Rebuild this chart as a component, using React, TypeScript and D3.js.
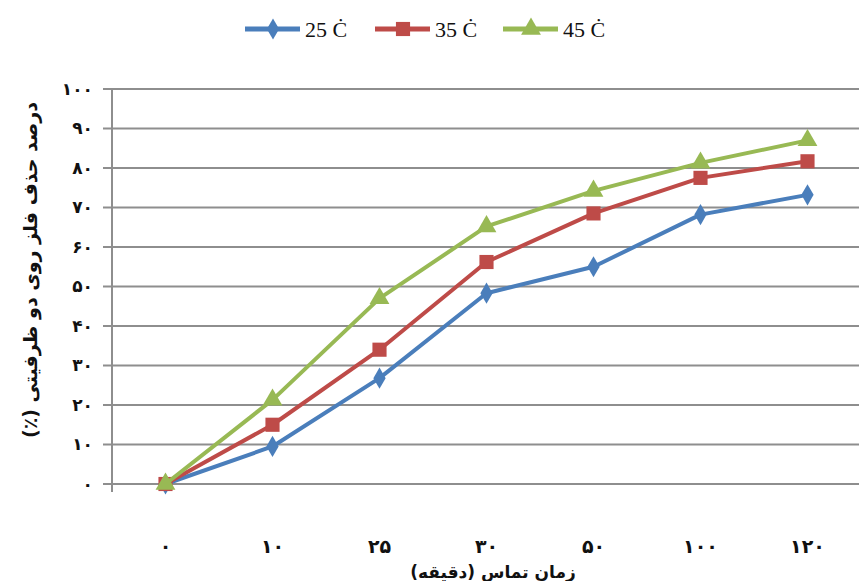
import React from "react";
import * as d3 from "d3";

const categories = ["۰", "۱۰", "۲۵", "۳۰", "۵۰", "۱۰۰", "۱۲۰"];
const yTickValues = [0, 10, 20, 30, 40, 50, 60, 70, 80, 90, 100];
const yTickLabels = ["۰", "۱۰", "۲۰", "۳۰", "۴۰", "۵۰", "۶۰", "۷۰", "۸۰", "۹۰", "۱۰۰"];
const s25 = [0, 9.5, 26.8, 48.3, 55, 68.2, 73.2];
const s35 = [0, 15, 34, 56.2, 68.5, 77.5, 81.7];
const s45 = [0, 21.3, 47, 65.2, 74.2, 81.3, 87];
const seriesNames = ["25 Ċ", "35 Ċ", "45 Ċ"];

const W = 859;
const H = 581;
const left = 112;
const right = 861;
const top = 89;
const bottom = 484;

const series = [
  { name: seriesNames[0], values: s25, color: "#4A7EBB", symbol: d3.symbolDiamond, size: 130 },
  { name: seriesNames[1], values: s35, color: "#BE4B48", symbol: d3.symbolSquare, size: 200 },
  { name: seriesNames[2], values: s45, color: "#98B954", symbol: d3.symbolTriangle, size: 170 },
];

const legendX = [245, 375, 503];

export default function App() {
  const x = d3.scalePoint<string>().domain(categories).range([left, right]).padding(0.5);
  const y = d3.scaleLinear().domain([0, 100]).range([bottom, top]);
  const line = d3
    .line<number>()
    .x((_, i) => x(categories[i]) as number)
    .y((d) => y(d));
  const fontFa = "'DejaVu Sans', sans-serif";

  return (
    <svg width={W} height={H} style={{ position: "absolute", left: 0, top: 0, background: "#fff" }}>
      {/* gridlines */}
      {yTickValues.map((v) => (
        <line key={"g" + v} x1={left - 9} x2={W} y1={y(v)} y2={y(v)} stroke="#8e8e8e" strokeWidth={2} />
      ))}
      <line x1={left} x2={left} y1={top} y2={bottom + 8} stroke="#8e8e8e" strokeWidth={2} />
      {/* y labels */}
      {yTickValues.map((v, i) => (
        <text
          key={"yl" + v}
          x={93}
          y={y(v)}
          dy="0.35em"
          textAnchor="end"
          fontFamily={fontFa}
          fontWeight="bold"
          fontSize={17}
          letterSpacing={2}
          fill="#111"
        >
          {yTickLabels[i]}
        </text>
      ))}
      {/* x labels */}
      {categories.map((c) => (
        <text
          key={"xl" + c}
          x={x(c) as number}
          y={546}
          dy="0.35em"
          textAnchor="middle"
          fontFamily={fontFa}
          fontWeight="bold"
          fontSize={19}
          letterSpacing={3}
          fill="#111"
        >
          {c}
        </text>
      ))}
      {/* axis titles */}
      <text
        x={493}
        y={572}
        dy="0.35em"
        textAnchor="middle"
        direction="rtl"
        style={{ direction: "rtl", unicodeBidi: "plaintext" } as any}
        fontFamily={fontFa}
        fontWeight="bold"
        fontSize={17}
        fill="#111"
      >
        زمان تماس (دقیقه)
      </text>
      <text
        transform={`translate(30,270) rotate(-90)`}
        dy="0.35em"
        textAnchor="middle"
        direction="rtl"
        style={{ direction: "rtl", unicodeBidi: "plaintext" } as any}
        fontFamily={fontFa}
        fontWeight="bold"
        fontSize={19}
        fill="#111"
      >
        درصد حذف فلز روی دو ظرفیتی (٪)
      </text>
      {/* series */}
      {series.map((s) => (
        <g key={s.name}>
          <path d={line(s.values) as string} fill="none" stroke={s.color} strokeWidth={4} strokeLinejoin="round" />
          {s.values.map((v, i) => (
            <path
              key={i}
              d={d3.symbol().type(s.symbol).size(s.size)() as string}
              transform={`translate(${x(categories[i])},${y(v)})`}
              fill={s.color}
            />
          ))}
        </g>
      ))}
      {/* legend */}
      {series.map((s, i) => (
        <g key={"lg" + s.name} transform={`translate(${legendX[i]},29)`}>
          <line x1={0} x2={55} y1={0} y2={0} stroke={s.color} strokeWidth={5} />
          <path d={d3.symbol().type(s.symbol).size(s.size)() as string} transform="translate(28,0)" fill={s.color} />
          <text
            x={60}
            y={0}
            dy="0.35em"
            fontFamily="'Liberation Serif', serif"
            fontSize={22}
            fill="#111"
          >
            {s.name}
          </text>
        </g>
      ))}
    </svg>
  );
}
